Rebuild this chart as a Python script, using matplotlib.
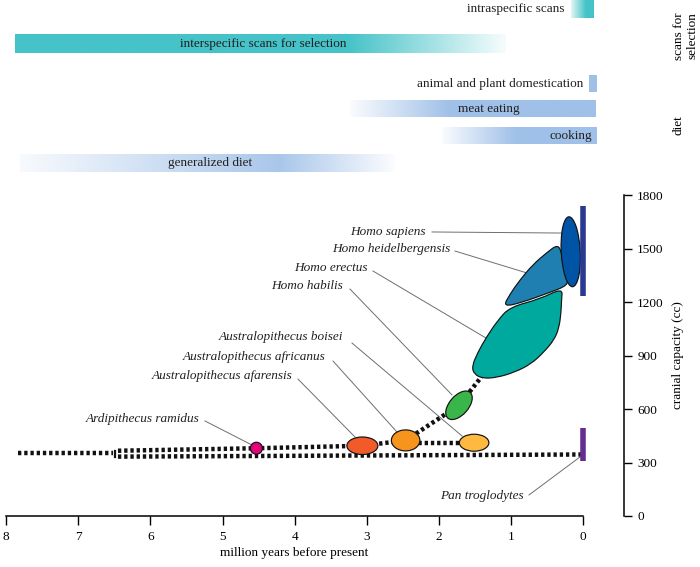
import numpy as np
import matplotlib
matplotlib.use("Agg")
import matplotlib.pyplot as plt
import matplotlib.transforms as mtransforms
from matplotlib.patches import Ellipse, PathPatch
from matplotlib.path import Path
from matplotlib.colors import to_rgb

plt.rcParams["font.family"] = ["Liberation Serif", "DejaVu Serif"]
plt.rcParams["font.size"] = 9.5

# =========================================================
# data
# =========================================================
x_ticks = [8, 7, 6, 5, 4, 3, 2, 1, 0]
y_ticks = [0, 300, 600, 900, 1200, 1500, 1800]

# timeline bars (million years before present)
bar_labels = ["intraspecific scans", "interspecific scans for selection",
              "animal and plant domestication", "meat eating", "cooking",
              "generalized diet"]
bar_start = [0.17, 7.88, -0.08, 3.23, 1.96, 7.81]
bar_end = [-0.14, 1.08, -0.18, -0.18, -0.18, 2.61]
# colour strength along each bar
bar_fade_t = [[0.17, -0.03, -0.14],
              [7.88, 3.26, 1.08],
              [-0.08, -0.18],
              [3.23, 1.84, -0.18],
              [1.96, 0.94, -0.18],
              [7.81, 4.2, 2.61]]
bar_fade_a = [[0.15, 1.0, 1.0],
              [1.0, 1.0, 0.05],
              [1.0, 1.0],
              [0.05, 1.0, 1.0],
              [0.05, 1.0, 1.0],
              [0.08, 0.9, 0.04]]
bar_colors = ["#45c3c8", "#45c3c8", "#9fc0e8", "#9fc0e8", "#9fc0e8", "#9fc0e8"]

# species: centre age (Myr) and cranial capacity (cc)
species = ["Ardipithecus ramidus", "Australopithecus afarensis",
           "Australopithecus africanus", "Australopithecus boisei",
           "Homo habilis", "Homo sapiens"]
species_t = [4.53, 3.06, 2.46, 1.51, 1.72, 0.17]
species_cc = [380, 394, 424, 411, 621, 1482]
species_colors = ["#e6007e", "#f15a29", "#f7941d", "#fdb940", "#39b54a", "#0054a6"]

# outlines of the two larger Homo ranges
erectus_t = [1.540, 1.512, 1.387, 1.193, 0.957, 0.721, 0.541, 0.402, 0.333,
             0.305, 0.298, 0.284, 0.596, 1.012, 1.179, 1.338, 1.456]
erectus_cc = [841, 796, 771, 777, 805, 852, 920, 987, 1054,
              1139, 1211, 1279, 1217, 1172, 1099, 1004, 920]
heidel_t = [1.110, 0.832, 0.499, 0.194, 0.243, 0.277, 0.305, 0.361,
            0.499, 0.693, 0.874, 1.012]
heidel_cc = [1172, 1200, 1248, 1296, 1343, 1419, 1492, 1520,
             1478, 1411, 1324, 1245]

# present-day ranges
sapiens_range = [1234, 1739]
pan_range = [309, 495]

# lineage (dotted) paths
stem_t, stem_cc = [7.84, 6.52], [352, 352]
upper_t, upper_cc = [6.45, 4.53, 3.06, 2.46], [366, 380, 394, 424]
lower_t, lower_cc = [6.45, 0.0], [333, 345]
boisei_t, boisei_cc = [2.46, 1.51], [411, 411]
homo_t, homo_cc = [2.46, 1.72, 1.39], [424, 621, 790]

# labels with leader lines
label_text = ["Homo sapiens", "Homo heidelbergensis", "Homo erectus",
              "Homo habilis", "Australopithecus boisei",
              "Australopithecus africanus", "Australopithecus afarensis",
              "Ardipithecus ramidus", "Pan troglodytes"]
label_t = [2.178, 1.845, 2.982, 3.329, 3.329, 3.578, 4.036, 5.326, 0.818]
label_cc = [1593, 1496, 1389, 1292, 1002, 893, 787, 542, 112]
leader_t0 = [2.094, 1.775, 2.913, 3.232, 3.204, 3.467, 3.953, 5.243, 0.749]
leader_cc0 = [1593, 1486, 1374, 1273, 970, 869, 768, 533, 118]
leader_t1 = [0.291, 0.777, 1.345, 1.817, 1.678, 2.580, 3.162, 4.591, 0.042]
leader_cc1 = [1587, 1363, 998, 679, 449, 471, 443, 398, 331]

# =========================================================
# layout
# =========================================================
W, H = 700, 567
X0_PX, PX_PER_MYR = 583, 72.1
Y0_PX, PX_PER_CC = 516, 0.1783
xlim = (X0_PX / PX_PER_MYR, (X0_PX - W) / PX_PER_MYR)

# ellipse sizes (inches) and tilt
species_shape = [(0.12, 0.12, 0), (0.31, 0.175, 0), (0.285, 0.21, 0),
                 (0.295, 0.17, 0), (0.34, 0.19, 49), (0.70, 0.19, 93)]

# top rows (pixel rows inside the top panel)
row_center = [9, 43.5, 84, 109, 136, 163]
row_height = [18.5, 19, 16.5, 17, 17, 18]
bar_label_t = [0.25, 4.44, -0.01, 1.30, -0.125, 5.17]
bar_label_ha = ["right", "center", "right", "center", "right", "center"]

fig = plt.figure(figsize=(W / 100, H / 100), dpi=100)

# =========================================================
# top panel: timeline bars
# =========================================================
top_h = 180
ax_top = fig.add_axes([0, 1 - top_h / H, 1, top_h / H])
ax_top.axis("off")

for i in range(len(bar_labels)):
    ts = np.linspace(bar_start[i], bar_end[i], 300)
    alpha = np.interp(-ts, -np.array(bar_fade_t[i]), bar_fade_a[i])
    img = np.zeros((1, len(ts), 4))
    img[..., :3] = to_rgb(bar_colors[i])
    img[..., 3] = alpha
    c, h = row_center[i], row_height[i]
    ax_top.imshow(img, extent=(bar_start[i], bar_end[i], c + h / 2, c - h / 2),
                  aspect="auto", interpolation="bilinear")
    ax_top.text(bar_label_t[i], c, bar_labels[i], ha=bar_label_ha[i],
                va="center", fontsize=9.5, color="#231f20")

ax_top.set_xlim(*xlim)
ax_top.set_ylim(top_h, 0)

fig.text(686 / W, 1 - 36 / H, "scans for\nselection", rotation=90,
         ha="center", va="center", fontsize=9.5, linespacing=1.15)
fig.text(678 / W, 1 - 125.5 / H, "diet", rotation=90,
         ha="center", va="center", fontsize=9.5)

# =========================================================
# main panel: cranial capacity through time
# =========================================================
main_top = 185
ax = fig.add_axes([0, (H - Y0_PX) / H, 1, (Y0_PX - main_top) / H])
ax.set_xlim(*xlim)
ax.set_ylim(0, (Y0_PX - main_top) / PX_PER_CC)

for side in ["top", "left"]:
    ax.spines[side].set_visible(False)
ax.spines["bottom"].set_bounds(0, 8)
ax.spines["bottom"].set_linewidth(1.1)
ax.spines["right"].set_position(("data", (X0_PX - 624) / PX_PER_MYR))
ax.spines["right"].set_bounds(0, 1800)
ax.spines["right"].set_linewidth(1.1)
ax.yaxis.tick_right()
ax.set_xticks(x_ticks)
ax.set_yticks(y_ticks)
ax.tick_params(axis="x", direction="out", length=6.5, width=1.0, pad=4,
               labelsize=9.5)
ax.tick_params(axis="y", direction="out", length=6, width=1.0, pad=3.5,
               labelsize=9.5)

ax.text((X0_PX - 678) / PX_PER_MYR, 900, "cranial capacity (cc)", rotation=90,
        ha="center", va="center", fontsize=9.5, clip_on=False)
ax.text(4.0, (Y0_PX - 553) / PX_PER_CC, "million years before present",
        ha="center", va="center", fontsize=9.5, clip_on=False)

# dotted lineages
dot_kw = dict(color="#111111", lw=3.2, linestyle=(0, (0.75, 0.65)),
              solid_capstyle="butt", dash_capstyle="butt", zorder=2)
for tt, cc in [(stem_t, stem_cc), (upper_t, upper_cc), (lower_t, lower_cc),
               (boisei_t, boisei_cc), (homo_t, homo_cc)]:
    ax.plot(tt, cc, **dot_kw)
ax.plot([6.49, 6.49], [333, 366], color="#111111", lw=1.6, zorder=2)


def smooth_path(ts, ccs):
    pts = np.column_stack([ts, ccs])
    mids = (pts + np.roll(pts, -1, axis=0)) / 2
    verts = [mids[-1]]
    codes = [Path.MOVETO]
    for i in range(len(pts)):
        verts += [pts[i], mids[i]]
        codes += [Path.CURVE3, Path.CURVE3]
    return Path(verts, codes)


ax.add_patch(PathPatch(smooth_path(erectus_t, erectus_cc), facecolor="#00a99d",
                       edgecolor="#111111", lw=0.85, zorder=3))
ax.add_patch(PathPatch(smooth_path(heidel_t, heidel_cc), facecolor="#1f7fb0",
                       edgecolor="#111111", lw=0.85, zorder=4))

for i in range(len(species)):
    w, h, ang = species_shape[i]
    trans = fig.dpi_scale_trans + mtransforms.ScaledTranslation(
        species_t[i], species_cc[i], ax.transData)
    ax.add_patch(Ellipse((0, 0), w, h, angle=ang, transform=trans,
                         facecolor=species_colors[i], edgecolor="#111111",
                         lw=0.85, zorder=5))

ax.plot([0, 0], sapiens_range, color="#2b3990", lw=4, solid_capstyle="butt", zorder=6)
ax.plot([0, 0], pan_range, color="#662d91", lw=4, solid_capstyle="butt", zorder=6)

# labels
for i in range(len(label_text)):
    ax.plot([leader_t0[i], leader_t1[i]], [leader_cc0[i], leader_cc1[i]],
            color="#6d6e71", lw=0.7, zorder=1)
    ax.text(label_t[i], label_cc[i], label_text[i], ha="right", va="center",
            fontsize=9.5, style="italic", color="#231f20")

fig.savefig("out.png", dpi=100)
